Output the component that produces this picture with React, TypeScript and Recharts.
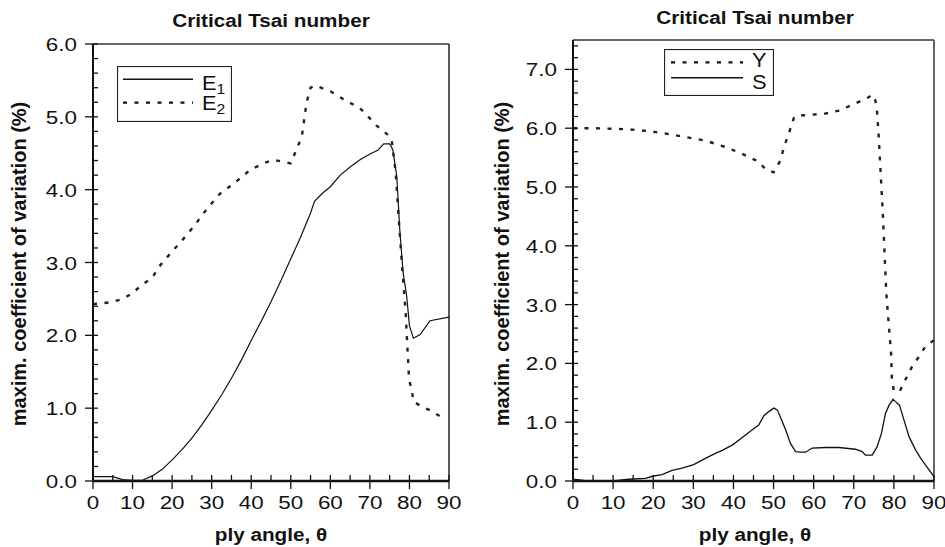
import React from 'react';
import { LineChart, Line, XAxis, YAxis, Legend, ReferenceLine } from 'recharts';

// ply angle (deg) vs. maximum coefficient of variation (%)
const e1Angle = [0, 5, 7.5, 10, 12.5, 15, 17.5, 20, 22.5, 25, 27.5, 30, 32.5, 35, 37.5, 40, 42.5, 45, 47.5, 50, 52.5, 55, 56, 58, 60, 62.5, 65, 67.5, 70, 72, 73.5, 75, 75.8, 76.8, 77.6, 78.4, 79.3, 80, 81, 82.7, 85.2, 90];
const e1Cov = [0.06, 0.06, 0.02, 0.01, 0.01, 0.07, 0.16, 0.29, 0.43, 0.59, 0.77, 0.97, 1.18, 1.41, 1.66, 1.93, 2.19, 2.46, 2.75, 3.05, 3.35, 3.68, 3.84, 3.95, 4.04, 4.2, 4.31, 4.41, 4.49, 4.54, 4.63, 4.63, 4.55, 4.18, 3.41, 2.86, 2.54, 2.13, 1.96, 2.01, 2.2, 2.25];

const e2Angle = [0, 2.5, 5, 7.5, 10, 12.5, 15, 16.5, 19.5, 22, 25.4, 28.7, 32, 35.5, 39.7, 43, 45.6, 47.5, 50, 50.6, 52.8, 54, 55, 56.2, 60, 64, 67.5, 71.7, 74.6, 75.5, 76.5, 77.3, 78.2, 79, 79.6, 79.9, 80.6, 81, 83.2, 85.2, 88];
const e2Cov = [2.43, 2.44, 2.46, 2.5, 2.58, 2.7, 2.79, 2.93, 3.12, 3.27, 3.49, 3.73, 3.94, 4.08, 4.27, 4.36, 4.41, 4.39, 4.36, 4.44, 4.73, 5.2, 5.4, 5.43, 5.35, 5.22, 5.12, 4.88, 4.75, 4.68, 4.25, 3.6, 2.9, 2.35, 1.71, 1.39, 1.25, 1.09, 1.02, 0.97, 0.88];

const yAngle = [0, 5, 10, 14, 19, 23, 28, 33, 38, 42, 46.3, 48, 50, 51.7, 52.6, 53.8, 55.1, 56, 58, 63, 66.3, 70.4, 73.8, 74.6, 75.4, 75.8, 76.2, 76.8, 77.2, 77.6, 78.1, 78.5, 78.9, 79.3, 79.5, 80, 81.5, 82.4, 84.5, 86.2, 87.8, 90];
const yCov = [6.0, 6.0, 5.99, 5.98, 5.95, 5.91, 5.85, 5.79, 5.68, 5.57, 5.43, 5.3, 5.25, 5.45, 5.68, 5.91, 6.18, 6.22, 6.22, 6.25, 6.3, 6.42, 6.53, 6.57, 6.47, 6.28, 5.88, 5.11, 4.6, 3.98, 3.21, 2.85, 2.51, 2.17, 1.74, 1.53, 1.53, 1.66, 1.94, 2.11, 2.28, 2.4];

const sAngle = [0, 3.1, 10.6, 13.9, 18, 20.1, 22.2, 24.7, 27.2, 30.1, 33, 35.5, 37.2, 39.7, 42.2, 44.7, 46.3, 47.6, 48.8, 50.1, 50.9, 51.7, 53, 54.2, 55.5, 56.7, 58, 59.6, 63, 66.3, 70.4, 72.1, 72.9, 74.6, 75.8, 76.9, 77.9, 78.8, 79.8, 80.4, 81.4, 82.5, 83.8, 85.4, 86.7, 87.9, 90];
const sCov = [0.03, 0.005, 0.005, 0.03, 0.045, 0.085, 0.11, 0.18, 0.22, 0.28, 0.385, 0.47, 0.52, 0.61, 0.74, 0.87, 0.95, 1.11, 1.18, 1.24, 1.21, 1.09, 0.87, 0.64, 0.5, 0.49, 0.49, 0.56, 0.57, 0.57, 0.54, 0.5, 0.44, 0.44, 0.58, 0.81, 1.15, 1.29, 1.39, 1.35, 1.29, 1.04, 0.75, 0.53, 0.385, 0.27, 0.074];

const xTicks = [0, 5, 10, 15, 20, 25, 30, 35, 40, 45, 50, 55, 60, 65, 70, 75, 80, 85, 90];
const leftYTicks = [0, 0.2, 0.4, 0.6, 0.8, 1, 1.2, 1.4, 1.6, 1.8, 2, 2.2, 2.4, 2.6, 2.8, 3, 3.2, 3.4, 3.6, 3.8, 4, 4.2, 4.4, 4.6, 4.8, 5, 5.2, 5.4, 5.6, 5.8, 6];
const rightYTicks = [0, 0.2, 0.4, 0.6, 0.8, 1, 1.2, 1.4, 1.6, 1.8, 2, 2.2, 2.4, 2.6, 2.8, 3, 3.2, 3.4, 3.6, 3.8, 4, 4.2, 4.4, 4.6, 4.8, 5, 5.2, 5.4, 5.6, 5.8, 6, 6.2, 6.4, 6.6, 6.8, 7, 7.2, 7.4];

const toPoints = (angles: number[], values: number[]) =>
  angles.map((a, i) => ({ angle: a, cov: values[i] }));

const e1Data = toPoints(e1Angle, e1Cov);
const e2Data = toPoints(e2Angle, e2Cov);
const yData = toPoints(yAngle, yCov);
const sData = toPoints(sAngle, sCov);

const font = "'Liberation Sans', Arial, Helvetica, sans-serif";
const ink = '#111';
const dash = '4 7.5';

function XTick({ x, y, payload }: any) {
  const v = payload.value;
  const major = v % 10 === 0;
  return (
    <g>
      <line x1={x} x2={x} y1={y - 6} y2={major ? y + 8 : y} stroke={ink} strokeWidth={1.3} />
      {major && (
        <text transform={`translate(${x},${y + 27.5}) scale(1.18,1)`} textAnchor="middle"
          fontSize={19} fontFamily={font} fill={ink}>{v}</text>
      )}
    </g>
  );
}

function YTick({ x, y, payload }: any) {
  const v = payload.value;
  const major = Math.abs(v - Math.round(v)) < 1e-6;
  return (
    <g>
      <line x1={major ? x - 8 : x} x2={x + 5} y1={y} y2={y} stroke={ink} strokeWidth={1.3} />
      {major && (
        <text transform={`translate(${x - 16},${y + 7}) scale(1.18,1)`} textAnchor="end"
          fontSize={19} fontFamily={font} fill={ink}>{v.toFixed(1)}</text>
      )}
    </g>
  );
}

const boldText = (label: string, cx: number, baseline: number) => () => (
  <text transform={`translate(${cx},${baseline}) scale(1.12,1)`} textAnchor="middle"
    fontSize={18.5} fontWeight="bold" fontFamily={font} fill={ink}>{label}</text>
);

const sideText = (label: string, baseline: number, cy: number) => () => (
  <text transform={`translate(${baseline},${cy}) rotate(-90)`} textAnchor="middle"
    fontSize={20} fontWeight="bold" fontFamily={font} fill={ink}>{label}</text>
);

type LegendLayout = {
  w: number; h: number; x1: number; x2: number; tx: number;
  order: string[]; rows: number[]; baselines: number[];
};

// legend drawn as a framed box; rows follow the given series order
const legendBox = (lay: LegendLayout) => (props: any) => {
  const items = props.payload || [];
  return (
    <svg width={lay.w} height={lay.h} style={{ display: 'block' }}>
      <rect x={0.5} y={0.5} width={lay.w - 1} height={lay.h - 1} fill="#fff" stroke="#222" strokeWidth={1.2} />
      {lay.order.map((name, i) => {
        const it = items.find((p: any) => String(p.value) === name);
        if (!it) return null;
        const sd = it.payload?.strokeDasharray;
        return (
          <g key={name}>
            <line x1={lay.x1} x2={lay.x2} y1={lay.rows[i]} y2={lay.rows[i]} stroke={ink}
              strokeWidth={sd ? 2.2 : 1.6} strokeDasharray={sd} />
            <text transform={`translate(${lay.tx},${lay.baselines[i]}) scale(1.12,1)`}
              fontSize={19.5} fontFamily={font} fill={ink}>
              {name[0]}
              {name.length > 1 && <tspan dy={4} fontSize={14}>{name.slice(1)}</tspan>}
            </text>
          </g>
        );
      })}
    </svg>
  );
};

const yLabel = 'maxim. coefficient of variation (%)';
const xLabel = 'ply angle, θ';
const title = 'Critical Tsai number';

function LeftPanel() {
  return (
    <div style={{ position: 'absolute', left: 0, top: 0 }}>
      <LineChart width={472} height={547} margin={{ top: 44, right: 23, bottom: 36, left: 33 }}>
        <XAxis dataKey="angle" type="number" domain={[0, 90]} ticks={xTicks} interval={0}
          tick={<XTick />} tickLine={false} tickSize={0} tickMargin={0} height={30}
          axisLine={{ stroke: ink, strokeWidth: 2.6 }} label={boldText(xLabel, 271, 541)} />
        <YAxis type="number" domain={[0, 6]} ticks={leftYTicks} interval={0}
          tick={<YTick />} tickLine={false} tickSize={0} tickMargin={0} width={60}
          axisLine={{ stroke: ink, strokeWidth: 2 }} label={sideText(yLabel, 26, 264)} />
        <ReferenceLine y={6} stroke="#333" strokeWidth={1.5} />
        <ReferenceLine x={90} stroke="#222" strokeWidth={1.5} />
        <Legend verticalAlign="middle" align="center"
          wrapperStyle={{ left: 117, top: 66, width: 115, height: 56 }}
          content={legendBox({ w: 115, h: 56, x1: 6, x2: 76, tx: 85, order: ['E1', 'E2'], rows: [13.3, 36.7], baselines: [24, 44] })} />
        <Line data={e1Data} dataKey="cov" name="E1" stroke={ink} strokeWidth={1.2}
          dot={false} isAnimationActive={false} />
        <Line data={e2Data} dataKey="cov" name="E2" stroke="#222" strokeWidth={2.4}
          strokeDasharray={dash} dot={false} isAnimationActive={false} />
      </LineChart>
      <svg width={472} height={40} style={{ position: 'absolute', left: 0, top: 0 }}>
        {boldText(title, 271, 27)()}
      </svg>
    </div>
  );
}

function RightPanel() {
  return (
    <div style={{ position: 'absolute', left: 472, top: 0 }}>
      <LineChart width={473} height={547} margin={{ top: 40, right: 11, bottom: 36, left: 41 }}>
        <XAxis dataKey="angle" type="number" domain={[0, 90]} ticks={xTicks} interval={0}
          tick={<XTick />} tickLine={false} tickSize={0} tickMargin={0} height={30}
          axisLine={{ stroke: ink, strokeWidth: 2.6 }} label={boldText(xLabel, 283, 541)} />
        <YAxis type="number" domain={[0, 7.5]} ticks={rightYTicks} interval={0}
          tick={<YTick />} tickLine={false} tickSize={0} tickMargin={0} width={60}
          axisLine={{ stroke: ink, strokeWidth: 2 }} label={sideText(yLabel, 37, 264)} />
        <ReferenceLine y={7.5} stroke="#333" strokeWidth={1.5} />
        <ReferenceLine x={90} stroke="#666" strokeWidth={2} />
        <Legend verticalAlign="middle" align="center"
          wrapperStyle={{ left: 192, top: 49, width: 110, height: 47 }}
          content={legendBox({ w: 110, h: 47, x1: 7, x2: 79, tx: 88, order: ['Y', 'S'], rows: [13.3, 28.7], baselines: [17.7, 40] })} />
        <Line data={yData} dataKey="cov" name="Y" stroke="#222" strokeWidth={2.4}
          strokeDasharray={dash} dot={false} isAnimationActive={false} />
        <Line data={sData} dataKey="cov" name="S" stroke={ink} strokeWidth={1.3}
          dot={false} isAnimationActive={false} />
      </LineChart>
      <svg width={473} height={40} style={{ position: 'absolute', left: 0, top: 0 }}>
        {boldText(title, 283, 23.5)()}
      </svg>
    </div>
  );
}

export default function App() {
  return (
    <div style={{ position: 'absolute', left: 0, top: 0, width: 945, height: 547, background: '#fff', fontFamily: font }}>
      <LeftPanel />
      <RightPanel />
    </div>
  );
}
